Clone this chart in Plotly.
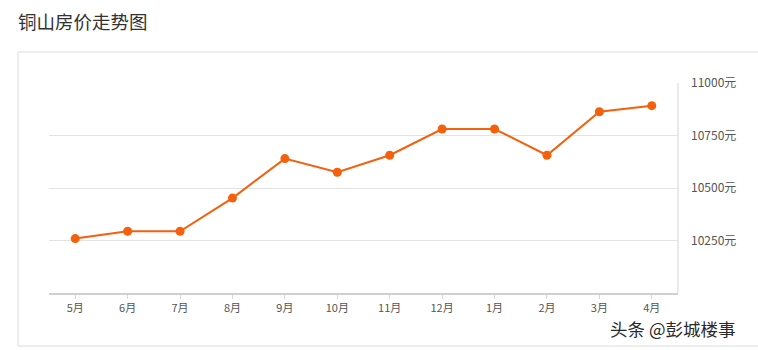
import plotly.graph_objects as go

months = ["5月", "6月", "7月", "8月", "9月", "10月", "11月", "12月", "1月", "2月", "3月", "4月"]
prices = [10259, 10294, 10294, 10452, 10640, 10575, 10656, 10781, 10781, 10656, 10863, 10892]
y_ticks = [10250, 10500, 10750, 11000]
y_tick_text = ["10250元", "10500元", "10750元", "11000元"]

FONT = "Noto Sans CJK SC, Noto Sans, sans-serif"

fig = go.Figure()
fig.add_trace(go.Scatter(
    x=months, y=prices, mode="lines+markers",
    line=dict(color="#f5600c", width=2),
    marker=dict(color="#f5600c", size=9),
    hoverinfo="x+y", showlegend=False,
))

L, R, T, B = 49, 80, 83, 57
W, H = 758, 350
pw, ph = W - L - R, H - T - B

def px_x(p):
    return (p - L) / pw

def px_y(p):
    return (H - B - p) / ph

fig.update_layout(
    width=W, height=H,
    margin=dict(l=L, r=R, t=T, b=B),
    paper_bgcolor="white", plot_bgcolor="white",
    font=dict(family=FONT, color="#555", size=12),
    xaxis=dict(
        type="category", showgrid=False, zeroline=False,
        showline=True, linecolor="#d0d0d0", linewidth=2,
        ticks="outside", ticklen=4, tickcolor="#d8d8d8", tickwidth=1,
        tickfont=dict(size=11, color="#555"),
        range=[-0.5, len(months) - 0.5], fixedrange=True,
    ),
    yaxis=dict(
        side="right", range=[10000, 11000],
        tickvals=y_ticks, ticktext=y_tick_text,
        showgrid=True, gridcolor="#e3e3e3", gridwidth=1,
        zeroline=False, showline=False, ticks="",
        ticklabelstandoff=12,
        tickfont=dict(size=12, color="#555"), fixedrange=True,
    ),
    shapes=[
        dict(type="rect", xref="paper", yref="paper",
             x0=px_x(18), x1=px_x(790), y0=px_y(346), y1=px_y(52),
             line=dict(color="#dcdcdc", width=1), fillcolor="rgba(0,0,0,0)", layer="below"),
        dict(type="line", xref="paper", yref="paper",
             x0=1, x1=1, y0=0, y1=1, line=dict(color="#e3e3e3", width=1.5)),
    ],
    annotations=[
        dict(text="铜山房价走势图", xref="paper", yref="paper",
             x=px_x(16), y=px_y(21.5), xanchor="left", yanchor="middle",
             showarrow=False, font=dict(size=18.5, color="#333", family=FONT)),
        dict(text="头条 @彭城楼事", xref="paper", yref="paper",
             x=px_x(608), y=px_y(328), xanchor="left", yanchor="middle",
             showarrow=False, font=dict(size=17.5, color="#2a2a2a", family=FONT)),
    ],
)

fig.write_html("out.html")
